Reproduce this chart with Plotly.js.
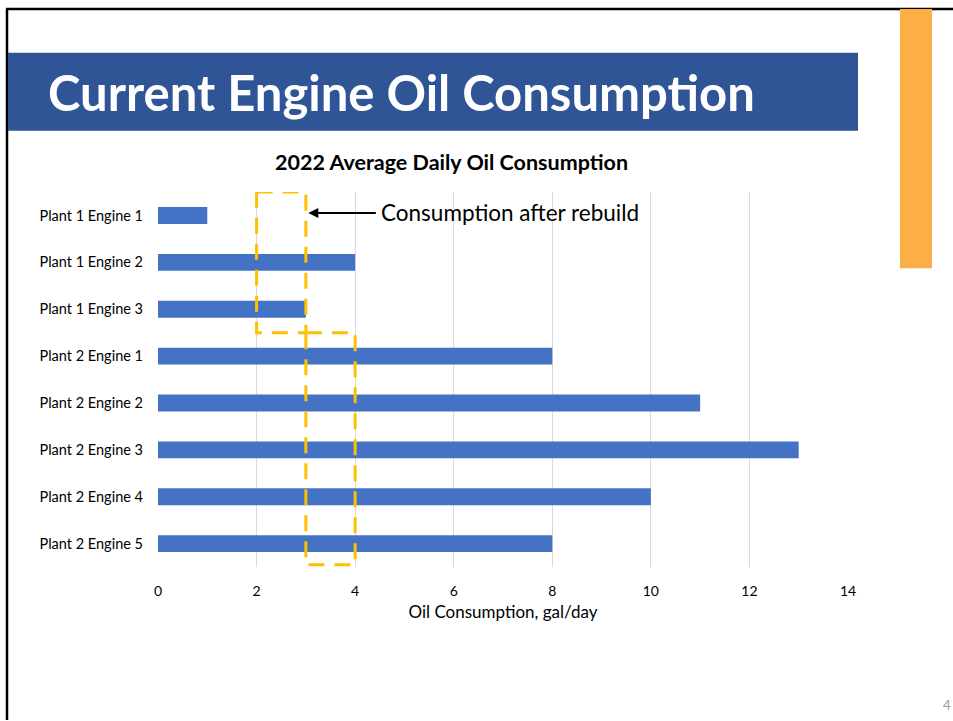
<!DOCTYPE html>
<html><head><meta charset="utf-8">
<script src="https://cdn.plot.ly/plotly-3.0.1.min.js"></script>
<style>html,body{margin:0;padding:0;background:#fff;}#chart{width:953px;height:721px;}</style>
</head><body><div id="chart"></div>
<script>
const categories = ["Plant 1 Engine 1","Plant 1 Engine 2","Plant 1 Engine 3","Plant 2 Engine 1","Plant 2 Engine 2","Plant 2 Engine 3","Plant 2 Engine 4","Plant 2 Engine 5"];
const consumption = [1, 4, 3, 8, 11, 13, 10, 8];
const xTicks = [0, 2, 4, 6, 8, 10, 12, 14];
const slideTitle = "Current Engine Oil Consumption";
const chartTitle = "2022 Average Daily Oil Consumption";
const xAxisTitle = "Oil Consumption, gal/day";
const annotationText = "Consumption after rebuild";

const W = 953, H = 721;
const L = 158, R = 848, T = 191.5, B = 567.5;
const px = x => (x - L) / (R - L);
const py = y => (B - y) / (B - T);
const font = "Lato, 'Open Sans', sans-serif";

const trace = {
  type: 'bar', orientation: 'h', y: categories, x: consumption,
  marker: {color: '#4472C4'}, width: 0.36, hoverinfo: 'x+y'
};

const dash = {color: '#FFC000', width: 3, dash: '16px,10px'};
const shapes = [
  {type:'line', xref:'paper', yref:'paper', x0:px(6), x1:px(953), y0:py(8), y1:py(8), line:{color:'#000', width:2.5}},
  {type:'line', xref:'paper', yref:'paper', x0:px(7), x1:px(7), y0:py(8), y1:py(721), line:{color:'#000', width:2.5}},
  {type:'rect', xref:'paper', yref:'paper', x0:px(8), x1:px(858), y0:py(52), y1:py(130), fillcolor:'#2F5597', line:{width:0}},
  {type:'rect', xref:'paper', yref:'paper', x0:px(900), x1:px(932), y0:py(8), y1:py(268), fillcolor:'#FBAF44', line:{width:0}},
  {type:'rect', xref:'x', yref:'y', x0:2, x1:3, y0:-0.5, y1:2.5, line:dash, layer:'above'},
  {type:'rect', xref:'x', yref:'y', x0:3, x1:4, y0:2.5, y1:7.45, line:dash, layer:'above'}
];

const annotations = [
  {xref:'paper', yref:'paper', x:px(46), y:py(91), xanchor:'left', yanchor:'middle', showarrow:false,
   text:'<b>'+slideTitle+'</b>', font:{family:font, size:49, color:'#fff'}},
  {xref:'paper', yref:'paper', x:px(451), y:py(161), xanchor:'center', yanchor:'middle', showarrow:false,
   text:'<b>'+chartTitle+'</b>', font:{family:font, size:21.5, color:'#000'}},
  {xref:'x', yref:'y', x:3.05, y:-0.05, axref:'x', ayref:'y', ax:4.45, ay:-0.05,
   showarrow:true, arrowhead:2, arrowsize:1, arrowwidth:2, arrowcolor:'#000', text:''},
  {xref:'paper', yref:'paper', x:px(379), y:py(212), xanchor:'left', yanchor:'middle', showarrow:false,
   text:annotationText, font:{family:font, size:22.5, color:'#000'}},
  {xref:'paper', yref:'paper', x:px(953), y:py(706), xanchor:'right', yanchor:'middle', showarrow:false,
   text:'4', font:{family:font, size:13, color:'#999'}}
];

const layout = {
  width: W, height: H, showlegend: false,
  paper_bgcolor: '#fff', plot_bgcolor: '#fff',
  margin: {l: L, r: W - R, t: T, b: H - B, pad: 0},
  font: {family: font, color: '#000'},
  xaxis: {range: [0, 14], tickvals: xTicks, ticktext: xTicks.map(String), showgrid: true, gridcolor: '#D9D9D9', gridwidth: 1,
    zeroline: false, showline: false, ticks: '', ticklabelstandoff: 14, tickfont: {size: 14, color: '#000'},
    title: {text: xAxisTitle, font: {size: 17, color: '#000'}, standoff: 8}, fixedrange: true},
  yaxis: {type: 'category', range: [7.5, -0.5], showgrid: false, zeroline: false, showline: false,
    ticks: '', ticklabelstandoff: 14, tickfont: {size: 14.5, color: '#000'}, fixedrange: true},
  shapes: shapes, annotations: annotations
};
Plotly.newPlot('chart', [trace], layout, {displayModeBar: false, staticPlot: true});
</script></body></html>
